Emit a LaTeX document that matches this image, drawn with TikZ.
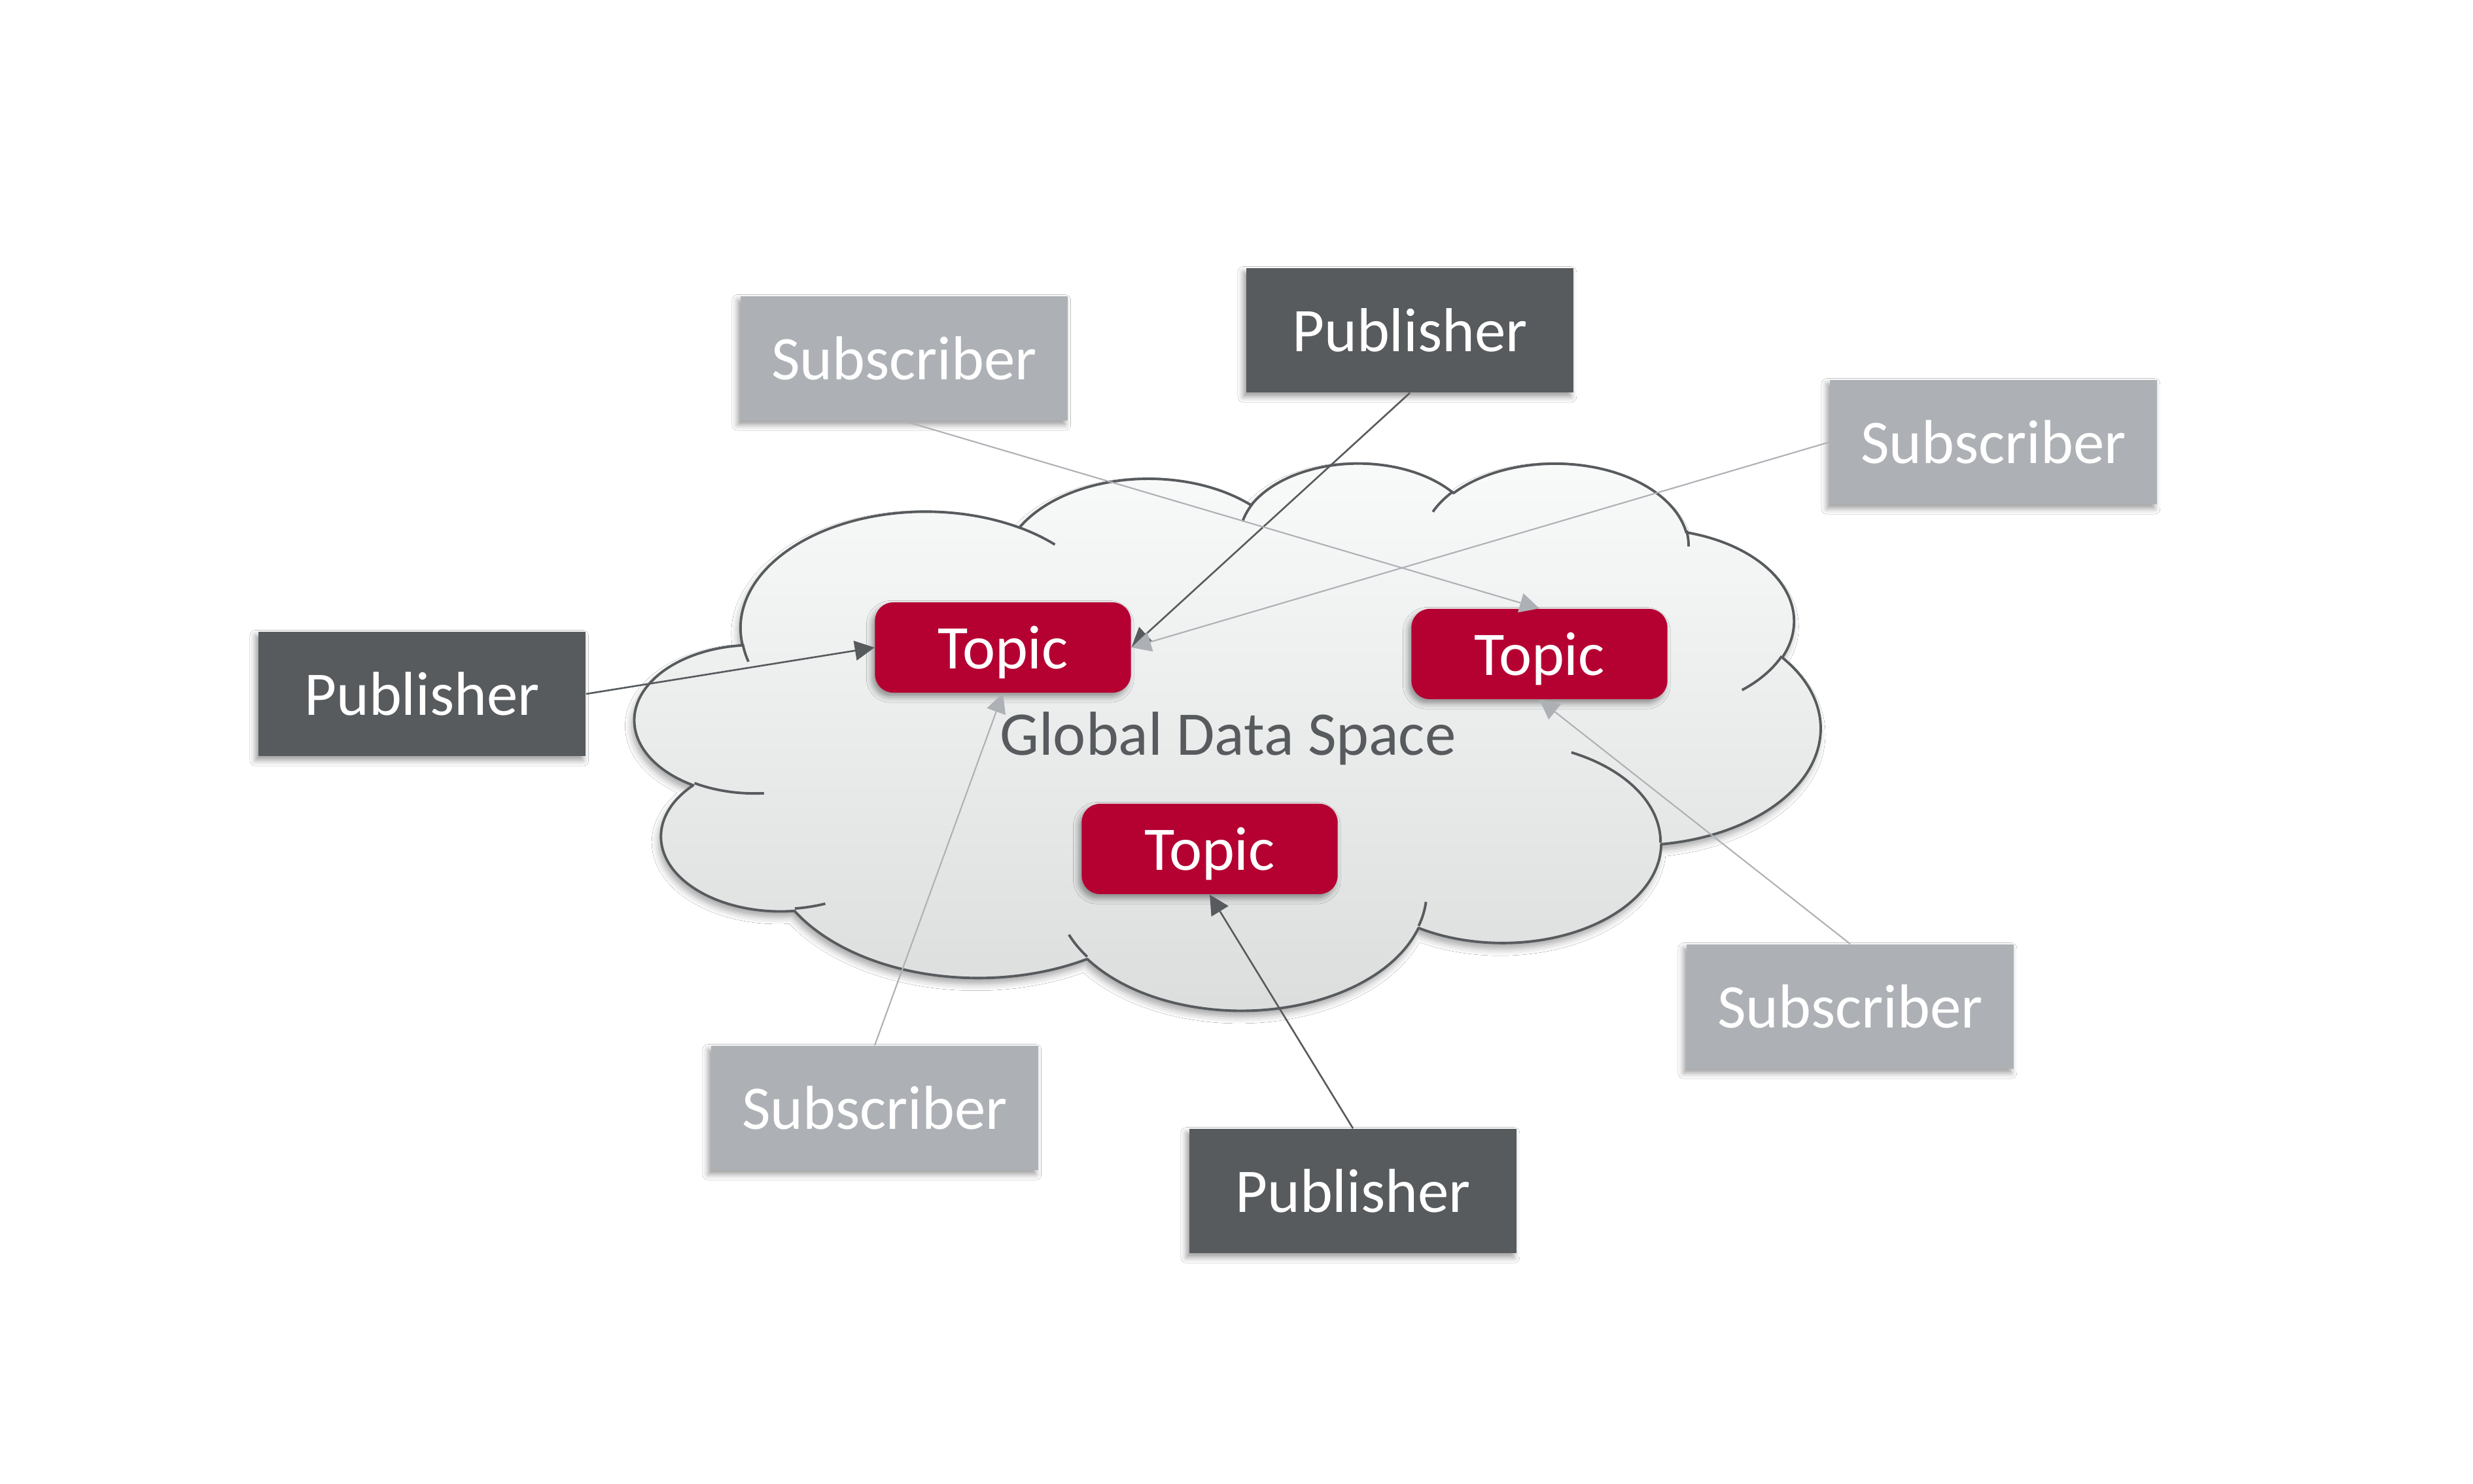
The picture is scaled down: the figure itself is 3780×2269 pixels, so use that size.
\documentclass[tikz,border=0pt]{standalone}
\usepackage{fontspec}
\setmainfont{Carlito}
\usetikzlibrary{arrows.meta,shadows.blur}
\definecolor{pubgray}{RGB}{87,91,94}
\definecolor{subgray}{RGB}{173,177,181}
\definecolor{topicred}{RGB}{181,0,50}
\definecolor{cloudtop}{RGB}{249,250,250}
\definecolor{cloudbot}{RGB}{219,221,221}
\newcommand\lbl{\fontsize{27}{32}\selectfont}
% arc with OOXML (visual) angles -> TikZ parametric angles
\newcommand\cloudarc[4]{%
  \pgfextra{%
    \pgfmathsetmacro\CAa{atan2((#1)*sin(#3),(#2)*cos(#3))}%
    \pgfmathsetmacro\CAb{\CAa+360*round(((#3)-\CAa)/360)}%
    \pgfmathsetmacro\CAc{atan2((#1)*sin((#3)+(#4)),(#2)*cos((#3)+(#4)))}%
    \pgfmathsetmacro\CAd{\CAc+360*round(((#3)+(#4)-\CAc)/360)}%
    \pgfmathsetmacro\CAe{\CAd-\CAb}%
    \global\let\CAts\CAb
    \global\let\CAdt\CAe
  }%
  arc[start angle=\CAts, delta angle=\CAdt, x radius=#1, y radius=#2]%
}
\begin{document}
\begin{tikzpicture}[x=0.01cm,y=-0.01cm,
  box/.style={minimum width=5cm, minimum height=1.9cm, inner sep=0pt, text=white, font=\lbl,
    blur shadow={shadow xshift=-1.2pt, shadow yshift=-1.8pt, shadow blur radius=2.5pt, shadow opacity=40}},
  pub/.style={box, fill=pubgray},
  sub/.style={box, fill=subgray},
  topic/.style={box, fill=topicred, rounded corners=0.28cm, minimum width=3.91cm, minimum height=1.38cm, text depth=0pt},
  darkline/.style={draw=pubgray, line width=0.75pt, -{Triangle[length=0.3cm, width=0.3cm]}},
  lightline/.style={draw=subgray, line width=0.6pt, -{Triangle[length=0.3cm, width=0.3cm]}},
  cloudline/.style={draw=pubgray, line width=1.1pt, line join=round},
]
\useasboundingbox (0,0) rectangle (3780,2269);
\fill[white] (0,0) rectangle (3780,2269);

\begin{scope}[shift={(971,706)}, x=0.419cm, y=-0.1935cm]
  \draw[cloudline, top color=cloudtop, bottom color=cloudbot,
    blur shadow={shadow xshift=-1pt, shadow yshift=-2.5pt, shadow blur radius=3pt, shadow opacity=35}]
    (3.9,14.37)
    \cloudarc{6.753}{9.190}{-190.4875}{123.7805}
    \cloudarc{5.333}{7.267}{-144.1024}{89.9452}
    \cloudarc{4.365}{5.945}{-145.8079}{99.7230}
    \cloudarc{4.857}{6.595}{-130.9861}{117.2417}
    \cloudarc{5.333}{7.273}{-78.7089}{109.0269}
    \cloudarc{6.775}{9.220}{-46.2673}{130.2690}
    \cloudarc{5.785}{7.867}{0.6250}{114.0333}
    \cloudarc{6.752}{9.215}{22.4516}{115.1726}
    \cloudarc{7.720}{10.543}{66.2426}{75.7110}
    \cloudarc{4.360}{5.918}{-274.9421}{146.7356}
    \cloudarc{4.345}{5.945}{-246.8285}{152.5189}
    -- cycle;
  \draw[cloudline]
    (4.693,26.177) \cloudarc{4.345}{5.945}{86.742}{26.4295}
    (6.928,34.899) \cloudarc{4.360}{5.918}{73.6105}{11.4475}
    (16.478,39.090) \cloudarc{6.752}{9.215}{137.6242}{14.0811}
    (28.827,34.751) \cloudarc{6.752}{9.215}{6.4533}{15.9984}
    (34.129,22.954) \cloudarc{5.785}{7.867}{-70.2924}{70.9174}
    (41.798,15.354) \cloudarc{5.333}{7.273}{30.3180}{27.7515}
    (38.324,5.426) \cloudarc{4.857}{6.595}{-13.7443}{14.8501}
    (29.078,3.952) \cloudarc{4.857}{6.595}{-149.1815}{18.1950}
    (22.141,4.720) \cloudarc{4.365}{5.945}{-163.4943}{17.6922}
    (14.000,5.192) \cloudarc{6.753}{9.190}{-66.7070}{12.3194}
    (4.127,15.789) \cloudarc{6.753}{9.190}{158.7861}{11.8652};
\end{scope}

\node[font=\lbl, text=pubgray, anchor=base] (gds) at (1877,1154) {Global Data Space};

\node[pub] (pubL) at (645,1061) {Publisher};
\node[pub] (pubT) at (2155,505) {Publisher};
\node[pub] (pubB) at (2068,1821) {Publisher};
\node[sub] (subTL) at (1382,548) {Subscriber};
\node[sub] (subTR) at (3047,676) {Subscriber};
\node[sub] (subBL) at (1337,1694) {Subscriber};
\node[sub] (subBR) at (2828,1539) {Subscriber};
\node[topic] (t1) at (1533,990) {Topic};
\node[topic] (t2) at (2353,1000) {Topic};
\node[topic] (t3) at (1849,1298) {Topic};

\draw[darkline] (pubL.east) -- (t1.west);
\draw[darkline] (pubT.south) -- (t1.east);
\draw[darkline] (pubB.north) -- (t3.south);
\draw[lightline] (subTL.south) -- (t2.north);
\draw[lightline] (subTR.west) -- (t1.east);
\draw[lightline] (subBL.north) -- (t1.south);
\draw[lightline] (subBR.north) -- (t2.south);
\end{tikzpicture}
\end{document}
